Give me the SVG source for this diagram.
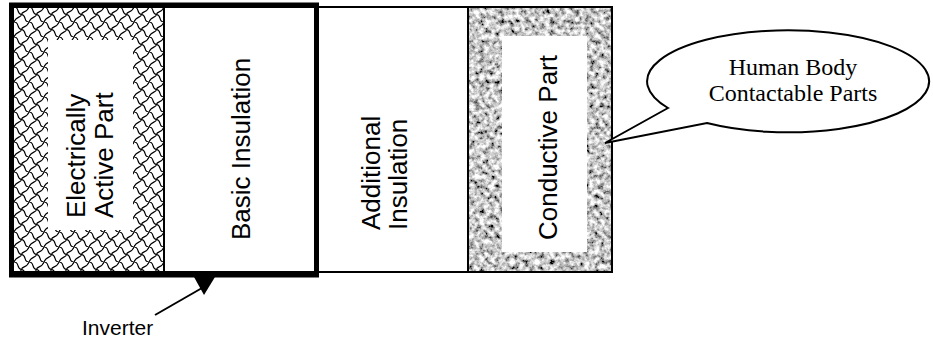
<svg xmlns="http://www.w3.org/2000/svg" width="933" height="340" viewBox="0 0 933 340">
  <style>
    .lbl { font-family: "Liberation Sans", Arial, sans-serif; font-size: 26px; fill: #000; }
    .thin { fill: none; stroke: #000; stroke-width: 2; }
    .callout { font-family: "Liberation Serif", "Times New Roman", serif; font-size: 24px; fill: #000; text-anchor: middle; }
    .curl { fill: none; stroke: #000; stroke-width: 1.2; }
  </style>
  <defs>
    <!-- curly lattice hatch for the live part -->
    <pattern id="shingle" width="15" height="15" patternUnits="userSpaceOnUse" x="14" y="7">
      <rect width="15" height="15" fill="#fff"/>
      <path class="curl" d="M0,0 C6,0 2,7 7.5,7.5 C13,8 9,15 15,15"/>
      <path class="curl" d="M7.5,7.5 C7,11 2,9 0,15"/>
      <path class="curl" d="M15,0 C13,6 8,4 7.5,7.5"/>
    </pattern>
    <!-- grey granite texture for the conductive part -->
    <filter id="granite" x="0" y="0" width="1" height="1" filterUnits="objectBoundingBox">
      <feTurbulence type="fractalNoise" baseFrequency="0.2" numOctaves="4" seed="7" result="n"/>
      <feColorMatrix in="n" type="matrix" values="2 0 0 0 -0.42  2 0 0 0 -0.42  2 0 0 0 -0.42  0 0 0 0 1"/>
    </filter>
  </defs>

  <g id="electrically-active-part">
    <rect x="12" y="7" width="152" height="264" fill="url(#shingle)"/>
    <rect x="48" y="40" width="85" height="190" fill="#fff"/>
    <text class="lbl" transform="translate(85,218) rotate(-90)">Electrically</text>
    <text class="lbl" transform="translate(113,218) rotate(-90)">Active Part</text>
  </g>

  <g id="basic-insulation">
    <rect x="164" y="7" width="152" height="264" fill="#fff"/>
    <line x1="164" y1="7" x2="164" y2="271" class="thin" stroke-width="1.5"/>
    <text class="lbl" transform="translate(250,240) rotate(-90)">Basic Insulation</text>
  </g>

  <g id="additional-insulation">
    <rect x="316" y="7" width="152" height="265" fill="#fff"/>
    <text class="lbl" transform="translate(380,230) rotate(-90)">Additional</text>
    <text class="lbl" transform="translate(407,230) rotate(-90)">Insulation</text>
  </g>

  <g id="conductive-part">
    <rect x="468" y="7" width="144" height="265" fill="#999" filter="url(#granite)"/>
    <rect x="502" y="36" width="85" height="216" fill="#fff"/>
    <text class="lbl" transform="translate(557,240) rotate(-90)">Conductive Part</text>
  </g>

  <!-- outline of the whole layer stack -->
  <g id="frame">
    <rect x="12" y="7" width="600" height="265" class="thin"/>
    <line x1="468" y1="7" x2="468" y2="272" class="thin"/>
  </g>

  <g id="inverter">
    <rect x="11.5" y="5" width="305" height="270" fill="none" stroke="#000" stroke-width="5"/>
    <text x="82" y="335" font-family="Liberation Sans, Arial, sans-serif" font-size="21">Inverter</text>
  </g>

  <g id="human-body-callout">
    <path d="M668,108 L605,143 L707,123 A141,51 0 1 0 668,108 Z" fill="#fff" stroke="#000" stroke-width="2" stroke-linejoin="miter"/>
    <text class="callout" x="793" y="75">Human Body</text>
    <text class="callout" x="793" y="101">Contactable Parts</text>
  </g>

  <g id="connectors">
    <polygon points="194,277 215,277 204,295" fill="#000"/>
    <line x1="202" y1="288" x2="155" y2="315" stroke="#000" stroke-width="2"/>
  </g>
</svg>
